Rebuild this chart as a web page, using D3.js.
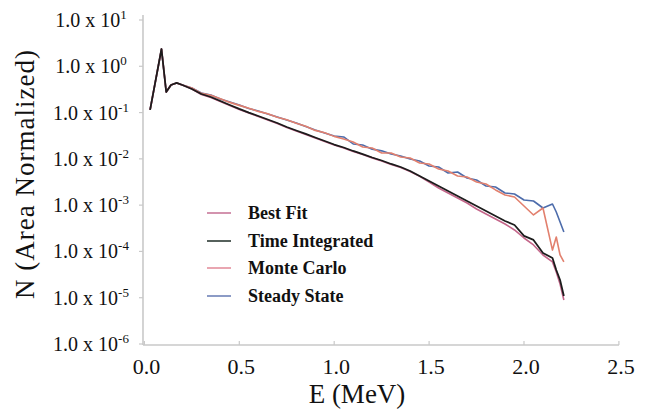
<!DOCTYPE html>
<html>
<head>
<meta charset="utf-8">
<script src="https://cdn.jsdelivr.net/npm/d3@7"></script>
<style>
  html, body { margin: 0; padding: 0; background: #fff; }
  svg { display: block; }
</style>
</head>
<body>
<svg id="chart" width="647" height="419" font-family="'Liberation Serif', 'Times New Roman', Times, 'DejaVu Serif', serif"></svg>
<script>
// Energy grid (MeV)
const energy = [0.03, 0.09, 0.115, 0.14, 0.17, 0.20, 0.25,
  0.30, 0.35, 0.40, 0.45, 0.50, 0.55, 0.60, 0.65, 0.70, 0.75,
  0.80, 0.85, 0.90, 0.95, 1.00, 1.05, 1.10, 1.15, 1.20, 1.25,
  1.30, 1.35, 1.40, 1.45, 1.50, 1.55, 1.60, 1.65, 1.70, 1.75,
  1.80, 1.85, 1.90, 1.95, 2.00, 2.05, 2.10, 2.15, 2.17, 2.19, 2.21];

// Area-normalized spectra
const bestFit = [0.114, 2.36, 0.278, 0.394, 0.436, 0.394, 0.323,
  0.245, 0.212, 0.174, 0.142, 0.117, 0.0985, 0.0826, 0.0694, 0.0582, 0.0478,
  0.0402, 0.0337, 0.0283, 0.0238, 0.0200, 0.0172, 0.0145, 0.0124, 0.0105, 0.00902,
  0.00758, 0.00652, 0.00535, 0.00418, 0.00317, 0.00235, 0.00183, 0.00143, 0.00111, 0.000826,
  0.000644, 0.000502, 0.000392, 0.000291, 0.000195, 0.000138, 8.38e-5, 5.92e-5, 3.60e-5, 1.98e-5, 8.94e-6];

const timeIntegrated = [0.114, 2.36, 0.278, 0.394, 0.436, 0.394, 0.323,
  0.252, 0.217, 0.178, 0.146, 0.120, 0.100, 0.0844, 0.0709, 0.0595, 0.0488,
  0.0410, 0.0345, 0.0289, 0.0243, 0.0204, 0.0176, 0.0148, 0.0127, 0.0107, 0.00922,
  0.00775, 0.00667, 0.00547, 0.00427, 0.00333, 0.00259, 0.00202, 0.00158, 0.00123, 0.000959,
  0.000748, 0.000583, 0.000455, 0.000373, 0.000216, 0.000177, 9.26e-5, 7.22e-5, 3.98e-5, 2.42e-5, 1.09e-5];

const monteCarlo = [0.114, 2.36, 0.278, 0.394, 0.436, 0.394, 0.340,
  0.260, 0.236, 0.199, 0.166, 0.143, 0.124, 0.106, 0.0945, 0.0790, 0.0700,
  0.0585, 0.0505, 0.0412, 0.0366, 0.0306, 0.0269, 0.0231, 0.0181, 0.0172, 0.0134,
  0.0134, 0.0110, 0.0104, 0.00814, 0.00775, 0.00604, 0.00547, 0.00427, 0.00406, 0.00317,
  0.00286, 0.00213, 0.00166, 0.00150, 0.000959, 0.000613, 0.000868, 0.000107, 0.000205, 8.38e-5, 5.92e-5];

const steadyState = [0.114, 2.36, 0.278, 0.394, 0.436, 0.394, 0.340,
  0.265, 0.240, 0.197, 0.169, 0.146, 0.123, 0.108, 0.0932, 0.0802, 0.0691,
  0.0595, 0.0500, 0.0420, 0.0362, 0.0312, 0.0297, 0.0210, 0.0199, 0.0162, 0.0149,
  0.0127, 0.0115, 0.00994, 0.00899, 0.00701, 0.00667, 0.00495, 0.00520, 0.00386, 0.00350,
  0.00259, 0.00247, 0.00183, 0.00174, 0.00129, 0.00123, 0.000868, 0.00106, 0.000712, 0.000433, 0.000263];

const seriesNames = ["Best Fit", "Time Integrated", "Monte Carlo", "Steady State"];
const seriesColors = ["#c4668a", "#1c1c1c", "#e2806e", "#4d6cab"];
const legendColors = ["#c9789a", "#2c3a34", "#e4909e", "#6f82b8"];

const xTicks = [0.0, 0.5, 1.0, 1.5, 2.0, 2.5];
const xTickLabels = ["0.0", "0.5", "1.0", "1.5", "2.0", "2.5"];
const yExponents = [1, 0, -1, -2, -3, -4, -5, -6];

const svg = d3.select("#chart");
const textColor = "#111";

const x = d3.scaleLinear().domain([0, 2.5]).range([144.4, 618.9]);
const y = d3.scaleLog().domain([1e-6, 1e1]).range([344, 20]);

// Axis lines
const axisColor = "#c9c9c9";
svg.append("line").attr("x1", 143).attr("x2", 143).attr("y1", 15).attr("y2", 345)
  .attr("stroke", axisColor).attr("stroke-width", 1.6);
svg.append("line").attr("x1", 143).attr("x2", 619).attr("y1", 345).attr("y2", 345)
  .attr("stroke", axisColor).attr("stroke-width", 1.6);

// Y ticks and labels
const yTickVals = yExponents.map(e => Math.pow(10, e));
svg.selectAll(".ytick").data(yTickVals).enter().append("line")
  .attr("x1", 139).attr("x2", 143)
  .attr("y1", d => y(d)).attr("y2", d => y(d))
  .attr("stroke", axisColor).attr("stroke-width", 1.2);

const yl = svg.selectAll(".ylab").data(yExponents).enter().append("text")
  .attr("x", 91).attr("y", e => y(Math.pow(10, e)) + 7)
  .attr("text-anchor", "middle").attr("font-size", 20).attr("fill", textColor);
yl.append("tspan").text("1.0 x 10");
yl.append("tspan").attr("dy", -8).attr("font-size", 13).text(e => String(e));

// X ticks and labels
svg.selectAll(".xtick").data(xTicks).enter().append("line")
  .attr("x1", d => x(d)).attr("x2", d => x(d))
  .attr("y1", 341).attr("y2", 345)
  .attr("stroke", axisColor).attr("stroke-width", 1.2);
svg.selectAll(".xlab").data(xTicks).enter().append("text")
  .attr("x", d => x(d) + 2).attr("y", 374)
  .attr("text-anchor", "middle").attr("font-size", 22).attr("fill", textColor)
  .text((d, i) => xTickLabels[i]);

// Axis titles
svg.append("text").attr("x", 357).attr("y", 403)
  .attr("text-anchor", "middle").attr("font-size", 27).attr("fill", textColor)
  .text("E (MeV)");
svg.append("text")
  .attr("transform", "translate(34,174) rotate(-90)")
  .attr("text-anchor", "middle").attr("font-size", 27).attr("letter-spacing", 1)
  .attr("fill", textColor)
  .text("N (Area Normalized)");

// Spectra
const series = [bestFit, timeIntegrated, monteCarlo, steadyState];
const line = d3.line().x((d, i) => x(energy[i])).y(d => y(d));
const drawOrder = [3, 2, 0, 1];
drawOrder.forEach(k => {
  svg.append("path").datum(series[k])
    .attr("d", line)
    .attr("fill", "none")
    .attr("stroke", seriesColors[k])
    .attr("stroke-width", k === 1 ? 1.8 : 1.6)
    .attr("stroke-linejoin", "round");
});

// Legend
const legendY = [213, 241, 268, 296];
seriesNames.forEach((name, i) => {
  svg.append("line").attr("x1", 207).attr("x2", 231)
    .attr("y1", legendY[i]).attr("y2", legendY[i])
    .attr("stroke", legendColors[i]).attr("stroke-width", 1.6);
  svg.append("text").attr("x", 248).attr("y", legendY[i] + 6)
    .attr("font-size", 18).attr("font-weight", "bold").attr("fill", textColor)
    .text(name);
});
</script>
</body>
</html>
